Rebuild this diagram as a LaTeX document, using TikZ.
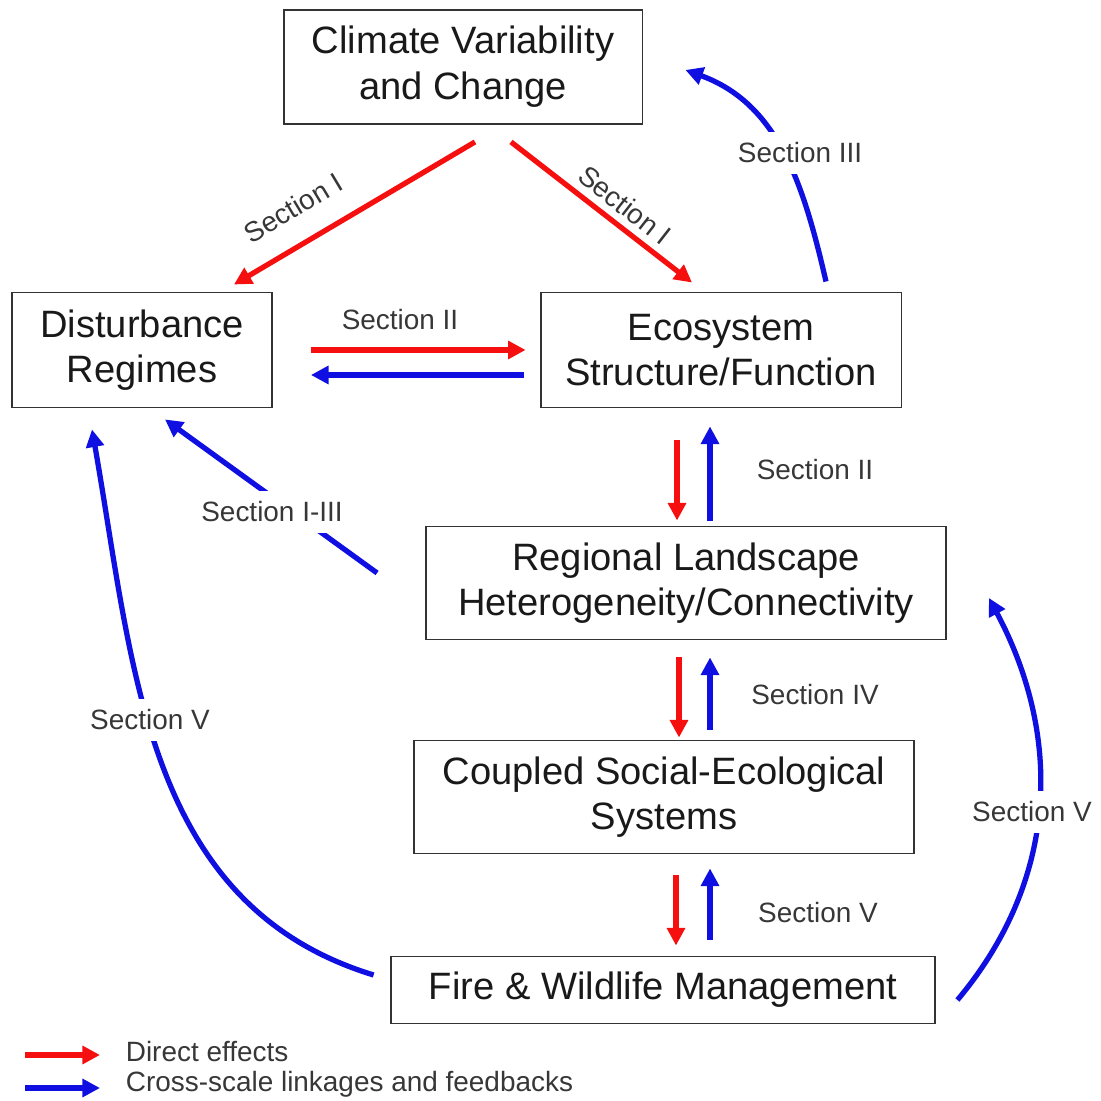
\documentclass[tikz,border=0pt]{standalone}
\usepackage{fontspec}
\setmainfont{Liberation Sans}
\usetikzlibrary{arrows.meta}
\definecolor{dirred}{RGB}{245,15,15}
\definecolor{fbblue}{RGB}{15,15,225}
\definecolor{labgray}{RGB}{55,55,55}
\tikzset{
	box/.style={draw=black!80, line width=1.1pt, align=center, inner sep=0pt, text=black!90, font=\fontsize{21.7}{26}\selectfont},
	direct/.style={draw=dirred, line width=3pt, -{Triangle[length=10pt,width=10pt]}},
	feedback/.style={draw=fbblue, line width=3pt, -{Triangle[length=10pt,width=10pt]}},
	seclabel/.style={text=labgray, font=\fontsize{15.9}{18}\selectfont, inner sep=2pt},
	gaplabel/.style={seclabel, fill=white, inner sep=6pt},
}

\begin{document}
\begin{tikzpicture}[x=0.02cm, y=0.02cm]
			\useasboundingbox (0,0) rectangle (1101,1101);
			
			% boxes
			\node[box, minimum width=7.18cm, minimum height=2.28cm] (clim) at (463,1034) {Climate Variability\\and Change};
			\node[box, minimum width=5.2cm, minimum height=2.3cm] (dist) at (142,751) {Disturbance\\Regimes};
			\node[box, minimum width=7.22cm, minimum height=2.3cm] (eco) at (721,751) {Ecosystem\\Structure/Function};
			\node[box, minimum width=10.4cm, minimum height=2.26cm] (reg) at (686,518) {Regional Landscape\\Heterogeneity/Connectivity};
			\node[box, minimum width=10cm, minimum height=2.26cm] (coup) at (664,304) {Coupled Social-Ecological\\Systems};
			\node[box, minimum width=10.9cm, minimum height=1.34cm] (fire) at (663,111) {Fire \& Wildlife Management};
			
			% direct effects
			\draw[direct] ([shift={(12,-17)}]clim.south) -- ([shift={(-39,7)}]dist.north east);
			\draw[direct] ([shift={(48,-17)}]clim.south) -- ([shift={(-29,9)}]eco.north);
			\draw[direct] ([shift={(38,0)}]dist.east) -- ([shift={(-14,0)}]eco.west);
			\draw[direct] ([shift={(-44,-32)}]eco.south) -- ([shift={(-9,5)}]reg.north);
			\draw[direct] ([shift={(-7,-17)}]reg.south) -- ([shift={(15,2)}]coup.north);
			\draw[direct] ([shift={(12,-21)}]coup.south) -- ([shift={(13,10)}]fire.north);
			
			% cross-scale linkages and feedbacks
			\draw[feedback] ([shift={(-16,-25)}]eco.west) -- ([shift={(38,-25)}]dist.east);
			\draw[feedback] ([shift={(105,10)}]eco.north) to[out=103,in=-20] ([shift={(42,-3)}]clim.east);
			\draw[feedback] ([shift={(24,5)}]reg.north) -- ([shift={(-11,-18)}]eco.south);
			\draw[feedback] ([shift={(-48,10)}]reg.west) -- ([shift={(23,-11)}]dist.south);
			\draw[feedback] ([shift={(46,10)}]coup.north) -- ([shift={(24,-17)}]reg.south);
			\draw[feedback] ([shift={(47,16)}]fire.north) -- ([shift={(46,-14)}]coup.south);
			\draw[feedback] ([shift={(-16,15)}]fire.west) to[out=163,in=-80] ([shift={(-50,-21)}]dist.south);
			\draw[feedback] ([shift={(21,-10)}]fire.east) to[out=50,in=-62] ([shift={(42,-15)}]reg.east);
			
			% section labels
			\node[seclabel, rotate=31] (s1a) at (293,893) {Section I};
			\node[seclabel, rotate=-38] (s1b) at (625,896) {Section I};
			\node[seclabel] (s2a) at (400,781) {Section II};
			\node[gaplabel] (s3) at (800,948) {Section III};
			\node[seclabel] (s2b) at (815,631) {Section II};
			\node[gaplabel] (s13) at (272,589) {Section I-III};
			\node[seclabel] (s4) at (815,406) {Section IV};
			\node[seclabel] (s5a) at (818,188) {Section V};
			\node[gaplabel] (s5b) at (150,381) {Section V};
			\node[gaplabel] (s5c) at (1032,289) {Section V};
			
			% legend
			\node[seclabel, anchor=west] (legr) at (122,49) {Direct effects};
			\node[seclabel, anchor=west] (legb) at (122,17) {Cross-scale linkages and feedbacks};
			\draw[direct] ([shift={(-97,-3)}]legr.west) -- ([shift={(-22,-3)}]legr.west);
			\draw[feedback] ([shift={(-97,-4)}]legb.west) -- ([shift={(-22,-4)}]legb.west);
\end{tikzpicture}
\end{document}
